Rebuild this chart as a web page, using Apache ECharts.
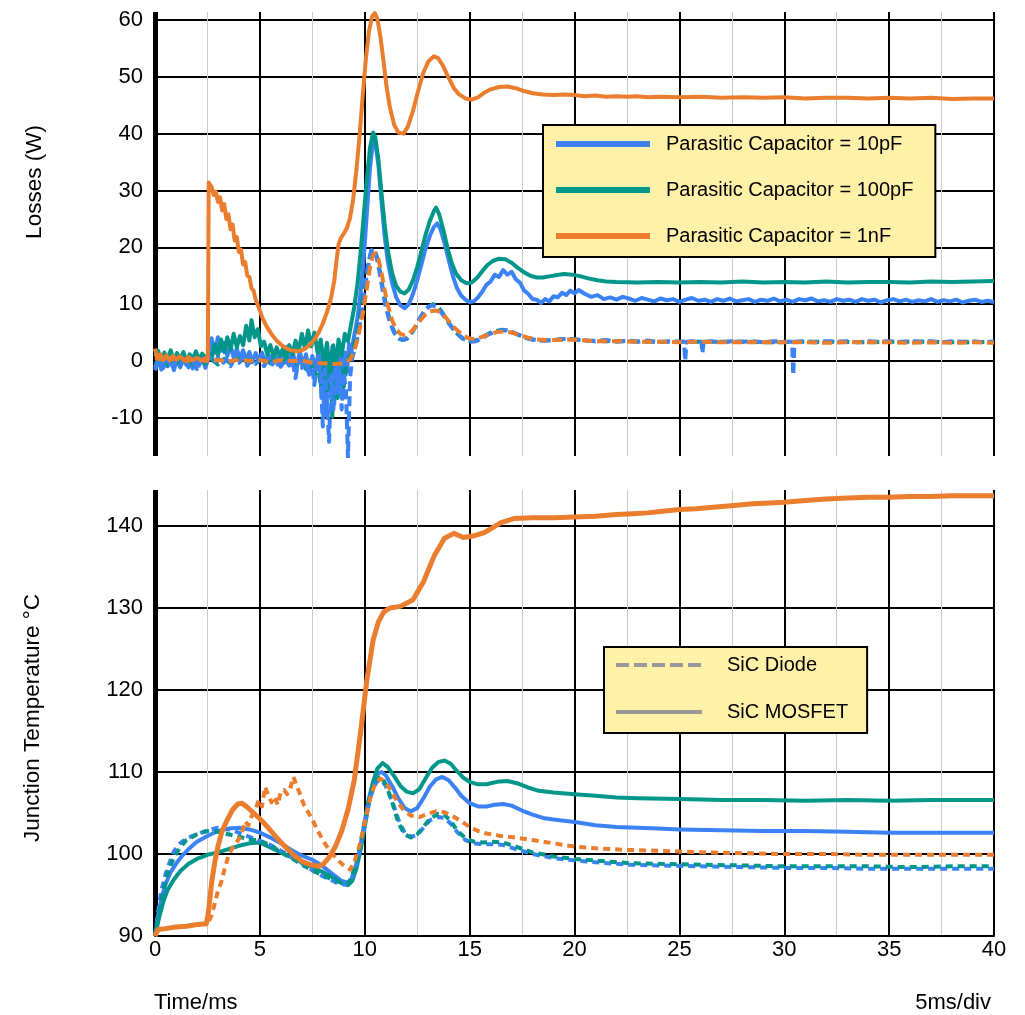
<!DOCTYPE html>
<html>
<head>
<meta charset="utf-8">
<title>Losses and junction temperature</title>
<script src="https://cdn.jsdelivr.net/npm/echarts@6/dist/echarts.min.js"></script>
<style>
  html, body { margin: 0; padding: 0; background: #fff; }
  #chart { width: 1025px; height: 1015px; }
</style>
</head>
<body>
<div id="chart"></div>
<script>
// ---- tick values ----
const timeTicks = [0, 5, 10, 15, 20, 25, 30, 35, 40];
const lossTicks = [-10, 0, 10, 20, 30, 40, 50, 60];
const tempTicks = [90, 100, 110, 120, 130, 140];

// ---- legend labels ----
const capNames = ['Parasitic Capacitor = 10pF', 'Parasitic Capacitor = 100pF', 'Parasitic Capacitor = 1nF'];
const deviceNames = ['SiC Diode', 'SiC MOSFET'];

// ---- losses (W) vs time (ms): MOSFET ----
const lossMos10 = [[0,-1.2],[0.15,0.6],[0.3,-1.5],[0.45,0.2],[0.6,-0.9],[0.75,0.8],[0.9,-1.6],[1.05,0.4],[1.2,-1.1],[1.35,0.6],[1.5,-0.7],[1.65,0.9],[1.8,-1.3],[1.95,0.3],[2.1,-0.8],[2.25,0.7],[2.4,-1.2],[2.55,0.5],[2.7,4],[2.85,1.5],[3,4.2],[3.15,1.8],[3.3,3.2],[3.45,0.9],[3.6,2.8],[3.75,0.6],[3.9,2.2],[4.05,0.3],[4.2,1.9],[4.35,0.2],[4.5,1.6],[4.65,-0.2],[4.8,1.4],[4.95,0.1],[5.1,1.5],[5.25,-0.4],[5.4,1.2],[5.55,-0.1],[5.7,1.6],[5.85,-0.6],[6,1.3],[6.15,-0.3],[6.3,2.5],[6.45,0.2],[6.6,1.1],[6.75,-1.5],[6.9,1.8],[7.05,-0.8],[7.2,1.2],[7.35,-2.4],[7.5,0.9],[7.65,-1.8],[7.8,2],[7.95,-6.5],[8.05,1.2],[8.15,-9.5],[8.25,0.5],[8.35,-3],[8.45,2.5],[8.55,-7.5],[8.65,1],[8.75,-4],[8.85,2.8],[8.95,-6],[9.05,1.5],[9.15,-2],[9.25,3],[9.35,1.5],[9.5,4.5],[9.65,7.5],[9.8,12],[9.95,18],[10.1,26],[10.25,34],[10.4,38.8],[10.5,38.6],[10.65,34.5],[10.8,28],[10.95,22],[11.1,17.5],[11.3,13.8],[11.5,11.2],[11.7,9.8],[11.9,9.3],[12.1,10],[12.3,11.8],[12.5,14.2],[12.7,17],[12.9,19.8],[13.1,22],[13.3,23.6],[13.45,24.2],[13.6,23.3],[13.8,20.8],[14,17.8],[14.2,15],[14.4,12.8],[14.6,11.5],[14.8,10.8],[15,10.4],[15.2,10.5],[15.4,11.2],[15.6,12.2],[15.8,13.4],[16,14],[16.2,15.2],[16.4,14.8],[16.6,16],[16.8,15.2],[17,15.7],[17.2,14.4],[17.4,13.8],[17.6,12.4],[17.8,11.8],[18,10.9],[18.2,10.8],[18.4,10.2],[18.6,10.9],[18.8,10.5],[19,11.4],[19.2,11.2],[19.4,12],[19.6,11.6],[19.8,12.4],[20,11.9],[20.2,12.5],[20.5,11.8],[20.8,11.3],[21.1,11.6],[21.4,10.9],[21.7,11.2],[22,10.8],[22.3,11.3],[22.6,11],[22.9,10.6],[23.2,11.1],[23.5,10.8],[23.8,10.5],[24.1,11],[24.4,10.7],[24.7,10.9],[25,10.4],[25.3,10.8],[25.6,11.1],[25.9,10.6],[26.2,10.8],[26.5,10.4],[26.8,10.9],[27.1,10.6],[27.4,11],[27.7,10.5],[28,10.7],[28.3,10.9],[28.6,10.4],[28.9,10.8],[29.2,10.6],[29.5,11],[29.8,10.5],[30.1,10.8],[30.4,10.4],[30.7,10.9],[31,10.7],[31.3,11],[31.6,10.5],[31.9,10.7],[32.2,10.4],[32.5,10.9],[32.8,10.6],[33.1,10.8],[33.4,10.4],[33.7,10.9],[34,10.6],[34.3,10.8],[34.6,10.3],[34.9,10.7],[35.2,10.9],[35.5,10.5],[35.8,10.8],[36.1,10.4],[36.4,10.7],[36.7,10.5],[37,10.9],[37.3,10.4],[37.6,10.7],[37.9,10.5],[38.2,10.8],[38.5,10.3],[38.8,10.6],[39.1,10.8],[39.4,10.4],[39.7,10.6],[40,10.4]];

const lossMos100 = [[0,0.8],[0.15,1.8],[0.3,0.2],[0.45,1.5],[0.6,0.4],[0.75,1.9],[0.9,0.1],[1.05,1.4],[1.2,0.3],[1.35,1.6],[1.5,0],[1.65,1.2],[1.8,0.4],[1.95,1.7],[2.1,0.2],[2.25,1.3],[2.4,0.5],[2.55,1.2],[2.7,0.4],[2.85,3],[3,1],[3.15,3.8],[3.3,1.6],[3.45,4.2],[3.6,2],[3.75,4.8],[3.9,2.4],[4.05,4.4],[4.2,2.8],[4.35,6.2],[4.5,3.6],[4.6,7.2],[4.75,4.2],[4.9,5.6],[5.05,2.6],[5.2,3.4],[5.35,1.2],[5.5,2.8],[5.65,0.8],[5.8,2.4],[5.95,0.9],[6.1,2.2],[6.25,0.6],[6.4,2.8],[6.55,1.1],[6.7,3.6],[6.85,1.8],[7,4.8],[7.15,2.2],[7.3,5.4],[7.45,2.6],[7.6,5],[7.75,1.5],[7.9,3.8],[8.05,-0.5],[8.2,3.2],[8.35,-2.5],[8.5,2.8],[8.6,-1.8],[8.75,3.8],[8.9,1],[9.05,4.8],[9.2,3.5],[9.35,6.5],[9.5,9.5],[9.65,13.5],[9.8,19],[9.95,25.5],[10.1,32],[10.25,37.5],[10.4,40.2],[10.5,39.4],[10.65,35.5],[10.8,29.5],[10.95,24],[11.1,19.5],[11.3,15.5],[11.5,13.2],[11.7,12.2],[11.9,11.9],[12.1,12.6],[12.3,14.2],[12.5,16.5],[12.7,19.3],[12.9,22.2],[13.1,24.6],[13.3,26.4],[13.4,27],[13.55,25.8],[13.75,23],[13.95,19.8],[14.15,17.2],[14.35,15.4],[14.6,14.2],[14.85,13.7],[15.1,13.8],[15.35,14.6],[15.6,15.8],[15.85,16.9],[16.1,17.6],[16.4,18],[16.7,17.9],[17,17.3],[17.3,16.4],[17.6,15.6],[17.9,15],[18.2,14.7],[18.5,14.7],[18.8,14.9],[19.1,15.1],[19.5,15.3],[19.9,15.2],[20.3,14.9],[20.7,14.5],[21.1,14.2],[21.5,14],[22,13.9],[23,13.8],[24,13.9],[25,13.8],[26,13.9],[27,13.8],[28,14],[29,13.8],[30,13.9],[31,13.8],[32,14],[33,13.8],[34,13.9],[35,13.9],[36,13.8],[37,14],[38,13.9],[39,14],[40,14.1]];

const lossMos1n = [[0,2.2],[0.1,0.4],[0.25,1.2],[0.4,0.2],[0.55,1],[0.7,0.1],[0.85,0.9],[1,0.3],[1.2,0.8],[1.4,0.1],[1.6,0.7],[1.8,0.2],[2,0.6],[2.2,0.1],[2.4,0.5],[2.52,0.4],[2.56,31.4],[2.7,30.6],[2.8,29.2],[2.9,29.8],[3,28],[3.1,28.8],[3.2,26.5],[3.3,27.6],[3.4,25],[3.5,25.8],[3.6,23.2],[3.7,24],[3.8,21.2],[3.9,21.8],[4,19.2],[4.1,19.6],[4.2,17],[4.3,17.4],[4.4,15],[4.5,14.8],[4.6,12.8],[4.7,12.4],[4.8,10.8],[4.95,9.4],[5.1,7.8],[5.25,6.6],[5.4,5.6],[5.6,4.5],[5.8,3.6],[6,2.9],[6.2,2.4],[6.4,2],[6.6,1.8],[6.8,1.7],[7,1.9],[7.2,2.3],[7.4,2.9],[7.6,3.8],[7.8,5],[8,6.6],[8.2,8.6],[8.4,11.2],[8.55,14.2],[8.65,17.5],[8.75,20.5],[8.85,21.6],[9,22.4],[9.15,23.4],[9.3,25.2],[9.45,28.5],[9.6,33.5],[9.75,39.5],[9.9,46.5],[10.05,53],[10.2,58],[10.35,60.6],[10.48,61.2],[10.6,60.2],[10.75,57],[10.9,52.5],[11.05,48],[11.2,44.6],[11.4,41.6],[11.6,40.2],[11.85,40],[12.05,41.2],[12.3,44],[12.55,47.6],[12.8,50.8],[13.05,52.8],[13.3,53.6],[13.5,53.3],[13.75,51.8],[14,49.8],[14.25,48],[14.5,46.9],[14.8,46.2],[15.1,46],[15.4,46.4],[15.7,47.2],[16,47.8],[16.4,48.2],[16.8,48.3],[17.2,48],[17.6,47.5],[18,47.1],[18.5,46.9],[19,46.8],[19.5,46.9],[20,46.8],[20.5,46.6],[21,46.7],[21.5,46.5],[22,46.6],[22.5,46.5],[23,46.6],[23.5,46.4],[24,46.5],[25,46.4],[26,46.5],[27,46.3],[28,46.4],[29,46.3],[30,46.4],[31,46.2],[32,46.3],[33,46.3],[34,46.2],[35,46.3],[36,46.2],[37,46.3],[38,46.1],[39,46.2],[40,46.2]];

// ---- losses (W) vs time (ms): diode ----
const lossDio10 = [[0,-1.6],[0.2,0.3],[0.4,-1.2],[0.6,0.5],[0.8,-1.5],[1,0.2],[1.2,-0.9],[1.4,0.6],[1.6,-1.1],[1.8,0.1],[2,-1.4],[2.2,0.4],[2.4,-0.6],[2.6,0.8],[2.8,-0.4],[3,0.6],[3.2,-0.6],[3.4,0.4],[3.6,-0.9],[3.8,0.5],[4,-0.3],[4.2,0.7],[4.4,-0.8],[4.6,0.3],[4.8,-0.5],[5,0.6],[5.2,-0.9],[5.4,0.4],[5.6,-0.6],[5.8,0.5],[6,-1],[6.2,0.3],[6.4,-0.8],[6.55,0.2],[6.7,-3],[6.85,0.4],[7,-1.2],[7.15,0.5],[7.3,-1.8],[7.45,0.2],[7.6,-4.2],[7.75,0.6],[7.9,-2.2],[8,-11.5],[8.1,-1.5],[8.2,-7.5],[8.3,-14.2],[8.4,-2.5],[8.5,-8.8],[8.6,-0.5],[8.7,-5.5],[8.8,-1.2],[8.9,-8.5],[9,-2],[9.1,-5],[9.2,-17],[9.3,-3],[9.4,0.5],[9.55,2.5],[9.7,5],[9.85,8.5],[10,12.5],[10.15,16.5],[10.3,19.4],[10.42,19.8],[10.55,18.6],[10.7,15.8],[10.85,12.5],[11,9.5],[11.2,6.8],[11.4,5],[11.6,4.1],[11.8,3.7],[12,3.9],[12.2,4.8],[12.4,6],[12.6,7.4],[12.8,8.6],[13,9.4],[13.2,9.8],[13.4,9.6],[13.6,8.8],[13.8,7.8],[14,6.7],[14.2,5.7],[14.4,4.9],[14.6,4.2],[14.8,3.7],[15,3.4],[15.3,3.5],[15.6,4],[15.9,4.7],[16.2,5.1],[16.5,5.4],[16.8,5.4],[17.1,5],[17.4,4.5],[17.7,4.1],[18,3.8],[18.5,3.6],[19,3.7],[19.5,3.9],[20,3.8],[20.5,3.6],[21,3.5],[21.5,3.7],[22,3.4],[22.5,3.6],[23,3.4],[23.5,3.6],[24,3.3],[24.5,3.5],[25,3.4],[25.22,3.4],[25.28,0],[25.34,3.4],[25.6,3.5],[26.05,3.4],[26.1,1.4],[26.16,3.4],[26.5,3.5],[27,3.3],[27.5,3.5],[28,3.4],[28.5,3.5],[29,3.3],[29.5,3.5],[30,3.4],[30.37,3.4],[30.43,-2.5],[30.49,3.4],[31,3.5],[31.5,3.3],[32,3.5],[32.5,3.4],[33,3.5],[33.5,3.3],[34,3.5],[34.5,3.4],[35,3.5],[35.5,3.3],[36,3.5],[36.5,3.4],[37,3.5],[37.5,3.3],[38,3.5],[38.5,3.4],[39,3.5],[39.5,3.3],[40,3.4]];

const lossDio100 = [[0,-0.5],[0.3,0.5],[0.6,-0.8],[0.9,0.4],[1.2,-0.6],[1.5,0.3],[1.8,-0.7],[2.1,0.2],[2.4,-0.5],[2.7,0.3],[3,-0.6],[3.3,0.4],[3.6,-0.4],[3.9,0.5],[4.2,-0.7],[4.5,0.2],[4.8,-0.5],[5.1,0.4],[5.4,-0.6],[5.7,0.3],[6,-0.5],[6.3,0.4],[6.6,-0.8],[6.9,0.2],[7.2,-1.4],[7.4,0.1],[7.6,-2.8],[7.75,-0.2],[7.9,-4.5],[8.05,-1],[8.2,-5.5],[8.35,-0.8],[8.45,-9.8],[8.55,-2.5],[8.7,-6.5],[8.85,-0.5],[9,-4.5],[9.15,-0.3],[9.3,0.8],[9.45,2.2],[9.6,4.5],[9.75,7.5],[9.9,11],[10.05,14.5],[10.2,17.8],[10.35,19.6],[10.48,19.5],[10.6,18],[10.75,15.2],[10.9,12],[11.05,9.2],[11.25,6.5],[11.45,4.8],[11.65,3.9],[11.85,3.7],[12.05,4.1],[12.25,5],[12.45,6.2],[12.65,7.6],[12.85,8.8],[13.05,9.6],[13.25,10],[13.45,9.7],[13.65,8.8],[13.85,7.6],[14.05,6.5],[14.25,5.5],[14.45,4.7],[14.65,4],[14.85,3.6],[15.05,3.5],[15.35,3.7],[15.65,4.3],[15.95,4.9],[16.25,5.3],[16.55,5.5],[16.85,5.3],[17.15,4.9],[17.45,4.4],[17.75,4],[18.1,3.7],[18.6,3.6],[19.1,3.7],[19.6,3.9],[20.1,3.8],[20.6,3.6],[21.5,3.5],[22.5,3.5],[23.5,3.4],[25,3.4],[26.5,3.4],[28,3.4],[29.5,3.3],[31,3.4],[32.5,3.4],[34,3.3],[35.5,3.4],[37,3.4],[38.5,3.3],[40,3.4]];

const lossDio1n = [[0,0.6],[0.5,0.1],[1,0.4],[1.5,0],[2,0.3],[2.5,0],[3,0.2],[3.5,-0.1],[4,0.3],[4.5,0],[5,0.2],[5.5,-0.2],[6,0.2],[6.5,0],[7,0.1],[7.5,-0.3],[8,-0.4],[8.5,-0.5],[9,-0.4],[9.3,0.3],[9.5,1.8],[9.7,4.5],[9.9,8.2],[10.1,12.8],[10.25,16.5],[10.4,18.7],[10.52,19],[10.65,18],[10.8,15.5],[10.95,12.5],[11.1,9.8],[11.3,7.2],[11.5,5.6],[11.7,4.8],[11.9,4.5],[12.1,4.8],[12.3,5.5],[12.5,6.4],[12.7,7.4],[12.9,8.2],[13.1,8.7],[13.3,8.9],[13.5,8.8],[13.7,8.3],[13.9,7.5],[14.1,6.6],[14.3,5.8],[14.5,5.1],[14.7,4.5],[14.9,4.1],[15.1,3.9],[15.4,4],[15.7,4.4],[16,4.8],[16.3,5.1],[16.6,5.2],[16.9,5.1],[17.2,4.8],[17.5,4.4],[17.8,4.1],[18.2,3.8],[18.7,3.7],[19.2,3.7],[19.7,3.8],[20.2,3.7],[21,3.5],[22,3.5],[23,3.4],[24,3.4],[25,3.3],[26,3.4],[27,3.3],[28,3.3],[29,3.3],[30,3.3],[31,3.3],[32,3.2],[33,3.3],[34,3.3],[35,3.3],[36,3.2],[37,3.3],[38,3.2],[39,3.3],[40,3.2]];

// ---- junction temperature (°C) vs time (ms): MOSFET ----
const tempMos10 = [[0,90],[0.15,92.5],[0.3,94.5],[0.5,96.3],[0.75,97.8],[1,98.8],[1.3,99.8],[1.6,100.6],[2,101.5],[2.5,102.2],[3,102.8],[3.5,103.1],[4,103.2],[4.5,103],[5,102.6],[5.5,102],[6,101.3],[6.5,100.5],[7,99.8],[7.5,99.3],[8,98.5],[8.5,97.5],[8.9,96.7],[9.2,96.5],[9.4,97],[9.6,98.5],[9.8,101],[10,104],[10.2,106.8],[10.4,108.8],[10.6,109.8],[10.8,110],[11,109.6],[11.3,108.3],[11.6,106.8],[11.9,105.6],[12.2,105.2],[12.5,105.6],[12.8,106.8],[13.1,108.2],[13.4,109.1],[13.7,109.4],[14,109],[14.3,108.1],[14.6,107.1],[15,106.2],[15.4,105.8],[15.8,105.8],[16.2,106],[16.6,106.1],[17,105.9],[17.5,105.3],[18,104.8],[18.5,104.4],[19,104.2],[20,103.9],[21,103.5],[22,103.3],[23,103.2],[24,103.1],[25,103],[27,102.9],[29,102.8],[31,102.8],[33,102.7],[35,102.6],[37,102.6],[40,102.6]];

const tempMos100 = [[0,90],[0.2,92.3],[0.4,94.2],[0.6,95.6],[0.9,96.9],[1.2,97.9],[1.6,98.8],[2,99.4],[2.5,99.9],[3,100.2],[3.5,100.6],[4,101],[4.5,101.3],[5,101.4],[5.5,100.8],[6,100.2],[6.5,99.6],[7,99],[7.5,98.4],[8,97.8],[8.5,97.1],[9,96.3],[9.2,96.2],[9.4,96.7],[9.6,98.2],[9.8,100.5],[10,103.3],[10.2,106.3],[10.4,108.8],[10.6,110.4],[10.85,111.1],[11.1,110.6],[11.4,109.5],[11.7,108.3],[12,107.6],[12.3,107.4],[12.6,107.9],[12.9,109.2],[13.2,110.5],[13.5,111.2],[13.8,111.4],[14.1,111],[14.4,110.1],[14.7,109.3],[15,108.8],[15.4,108.5],[15.8,108.5],[16.3,108.8],[16.8,108.9],[17.3,108.6],[17.8,108.1],[18.3,107.7],[19,107.5],[20,107.3],[21,107.1],[22,106.9],[23,106.8],[25,106.7],[27,106.6],[29,106.6],[31,106.5],[33,106.6],[35,106.5],[37,106.6],[40,106.6]];

const tempMos1n = [[0,90],[0.15,90.8],[0.5,90.9],[1,91.1],[1.5,91.2],[2,91.4],[2.45,91.5],[2.55,93],[2.7,96.5],[2.85,99],[3,100.9],[3.2,102.8],[3.45,104.2],[3.7,105.4],[3.95,106.1],[4.15,106.2],[4.4,105.7],[4.7,105],[5,104.3],[5.4,103.2],[5.8,102],[6.2,100.9],[6.6,99.9],[7,99.1],[7.4,98.7],[7.75,98.5],[8,98.7],[8.3,99.6],[8.6,100.9],[8.9,102.8],[9.2,105.4],[9.5,109],[9.8,114.8],[10.1,121.2],[10.4,126.1],[10.65,128.3],[10.9,129.5],[11.2,130],[11.7,130.2],[12.3,131],[12.8,133.2],[13.3,136.3],[13.8,138.5],[14.25,139.1],[14.7,138.6],[15.2,138.8],[15.7,139.2],[16.1,139.8],[16.5,140.4],[17.1,140.9],[18,141],[19,141],[20,141.1],[21,141.2],[22,141.4],[22.8,141.5],[23.5,141.6],[24.2,141.8],[25,142],[25.8,142.1],[26.6,142.3],[27.6,142.5],[28.5,142.7],[29.3,142.8],[30,142.9],[31,143.1],[32,143.3],[33,143.4],[34,143.5],[35,143.5],[36,143.6],[37,143.6],[38,143.7],[39,143.7],[40,143.7]];

// ---- junction temperature (°C) vs time (ms): diode ----
const tempDio10 = [[0,90],[0.15,93],[0.3,95.5],[0.5,97.5],[0.7,99],[0.9,100.3],[1.2,101.3],[1.5,101.9],[2,102.4],[2.5,102.9],[3,103.2],[3.5,103],[4,102.6],[4.5,102.1],[5,101.6],[5.5,101.1],[6,100.4],[6.5,99.7],[7,98.9],[7.5,98],[8,97.3],[8.5,96.7],[8.8,96.3],[9.1,96.3],[9.4,97.2],[9.6,98.8],[9.8,100.9],[10,103.6],[10.2,106.2],[10.4,108],[10.6,108.9],[10.8,109],[11,108.3],[11.3,106.5],[11.6,104.2],[11.9,102.6],[12.2,102.1],[12.5,102.3],[12.8,103.2],[13.1,104.1],[13.5,104.5],[13.8,104.4],[14.1,103.7],[14.4,102.7],[14.8,101.7],[15.2,101.3],[15.6,101.2],[16.1,101.2],[16.6,101.1],[17.2,100.6],[18,100],[19,99.5],[20,99.2],[21,99],[22.5,98.7],[24,98.6],[26,98.5],[28,98.4],[30,98.3],[32,98.3],[34,98.2],[36,98.2],[38,98.2],[40,98.2]];

const tempDio100 = [[0,90],[0.2,92.8],[0.4,95.5],[0.6,97.6],[0.9,99.6],[1.2,100.8],[1.5,101.7],[2,102.4],[2.5,102.8],[3,102.7],[3.5,102.4],[4,102.1],[4.5,101.8],[5,101.6],[5.5,101.1],[6,100.2],[6.5,99.5],[7,98.7],[7.5,98],[8,97.4],[8.5,96.8],[9,96.4],[9.2,96.4],[9.4,97.3],[9.6,99],[9.8,101.3],[10,104],[10.2,106.6],[10.4,108.4],[10.6,109.3],[10.8,109.4],[11,108.5],[11.3,106.4],[11.6,103.8],[11.9,102.4],[12.2,102],[12.5,102.4],[12.8,103.3],[13.1,104.3],[13.5,104.9],[13.8,104.8],[14.1,104],[14.4,102.9],[14.8,101.9],[15.2,101.5],[15.6,101.4],[16.1,101.5],[16.6,101.4],[17.2,100.9],[18,100.2],[19,99.7],[20,99.4],[21,99.2],[22.5,98.9],[24,98.8],[26,98.7],[28,98.6],[30,98.5],[32,98.5],[34,98.5],[36,98.4],[38,98.5],[40,98.5]];

const tempDio1n = [[0,90],[0.15,90.8],[0.5,90.9],[1,91.1],[1.5,91.2],[2,91.4],[2.5,91.5],[2.7,92.5],[2.85,94],[3,95.5],[3.15,96.5],[3.3,98],[3.5,99.8],[3.7,100.8],[3.9,101.5],[4.1,102.2],[4.3,104],[4.45,103.5],[4.6,104.6],[4.8,105.5],[4.95,106.6],[5.1,105.8],[5.25,108.2],[5.4,107.2],[5.55,106.3],[5.7,107],[5.85,106],[6,107.6],[6.15,107.8],[6.3,107.3],[6.45,108],[6.6,109.4],[6.75,108.3],[6.9,107.4],[7.1,106],[7.3,105.1],[7.5,104.2],[7.75,102.9],[8,101.7],[8.3,100.5],[8.7,99.3],[9,98.6],[9.3,98.1],[9.5,99],[9.7,100.6],[9.9,102.6],[10.1,105],[10.3,107.2],[10.5,108.6],[10.75,109.2],[11,108.7],[11.3,107.5],[11.6,106.2],[11.9,105.2],[12.2,104.7],[12.6,104.5],[13,104.9],[13.4,105.2],[13.8,105.1],[14.2,104.6],[14.6,104],[15,103.3],[15.4,102.8],[15.8,102.5],[16.5,102.2],[17.2,102],[18,101.7],[19,101.3],[20,100.9],[21,100.7],[22.5,100.5],[24,100.4],[26,100.2],[28,100.1],[30,100],[32,100],[34,99.9],[36,99.9],[38,99.9],[40,99.9]];

// ---- styling ----
const FONT = "'Liberation Sans', Arial, Helvetica, sans-serif";
const BLUE = '#3b82f5';
const TEAL = '#00968a';
const ORANGE = '#ea7d2e';
const GREY = '#999999';
const DASH_TOP = [10, 5];
const DASH_BOTTOM = [7, 5];

function trace(name, data, color, dash, gridIdx, width) {
  return {
    type: 'line',
    name: name,
    xAxisIndex: gridIdx,
    yAxisIndex: gridIdx,
    data: data,
    showSymbol: false,
    symbol: 'none',
    smooth: false,
    lineStyle: { color: color, width: width || 4, type: dash || 'solid', cap: 'butt', join: 'round' },
    itemStyle: { color: color },
    emphasis: { disabled: true },
    z: 3
  };
}

function timeAxis(gridIdx, withLabels) {
  return {
    type: 'value',
    gridIndex: gridIdx,
    min: 0,
    max: 40,
    interval: 5,
    axisLine: { show: withLabels, onZero: false, lineStyle: { color: '#000', width: 2 } },
    axisTick: { show: false },
    axisLabel: {
      show: withLabels,
      color: '#000',
      fontSize: 22,
      fontFamily: FONT,
      margin: 3,
      customValues: timeTicks
    },
    splitLine: { show: true, lineStyle: { color: '#000', width: 2 } },
    minorTick: { show: false, splitNumber: 2 },
    minorSplitLine: { show: true, lineStyle: { color: '#cbcbcb', width: 1 } }
  };
}

function valueAxis(gridIdx, min, max, ticks) {
  return {
    type: 'value',
    gridIndex: gridIdx,
    min: min,
    max: max,
    axisLine: { show: true, lineStyle: { color: '#000', width: 5, cap: 'butt' } },
    axisTick: { show: false, customValues: ticks },
    axisLabel: { color: '#000', fontSize: 22, fontFamily: FONT, margin: 12, customValues: ticks },
    splitLine: { show: true, lineStyle: { color: '#000', width: 2 } }
  };
}

const option = {
  backgroundColor: '#ffffff',
  animation: false,
  grid: [
    { left: 155, right: 31, top: 12, height: 444 },
    { left: 155, right: 31, top: 490, height: 446 }
  ],
  xAxis: [timeAxis(0, false), timeAxis(1, true)],
  yAxis: [
    valueAxis(0, -16.7, 61.4, lossTicks),
    valueAxis(1, 90, 144.39, tempTicks)
  ],
  legend: [
    {
      orient: 'vertical',
      left: 543,
      top: 125,
      padding: [9, 22, 11, 10],
      itemGap: 26,
      itemWidth: 94,
      itemHeight: 6,
      backgroundColor: '#fff1a8',
      borderColor: '#000',
      borderWidth: 2,
      borderRadius: 0,
      data: capNames.map(function (n) { return { name: n, lineStyle: { type: 'solid' } }; }),
      lineStyle: { width: 6 },
      itemStyle: { opacity: 0 },
      textStyle: { color: '#000', fontSize: 20, fontFamily: FONT, padding: [0, 0, 0, 11] }
    },
    {
      orient: 'vertical',
      left: 604,
      top: 647,
      padding: [8, 19, 11, 10],
      itemGap: 27,
      itemWidth: 86,
      itemHeight: 6,
      backgroundColor: '#fff1a8',
      borderColor: '#000',
      borderWidth: 2,
      borderRadius: 0,
      data: deviceNames,
      lineStyle: { width: 4 },
      itemStyle: { opacity: 0 },
      textStyle: { color: '#000', fontSize: 20, fontFamily: FONT, padding: [0, 0, 0, 20] }
    }
  ],
  graphic: [
    { type: 'text', x: 35, y: 182, rotation: Math.PI / 2,
      style: { text: 'Losses (W)', fill: '#000', font: '22.5px ' + FONT, textAlign: 'center', textVerticalAlign: 'middle' } },
    { type: 'text', x: 33, y: 718, rotation: Math.PI / 2,
      style: { text: 'Junction Temperature °C', fill: '#000', font: '22.5px ' + FONT, textAlign: 'center', textVerticalAlign: 'middle' } },
    { type: 'text', x: 154, y: 1003,
      style: { text: 'Time/ms', fill: '#000', font: '22px ' + FONT, textAlign: 'left', textVerticalAlign: 'middle' } },
    { type: 'text', x: 991, y: 1003,
      style: { text: '5ms/div', fill: '#000', font: '22px ' + FONT, textAlign: 'right', textVerticalAlign: 'middle' } }
  ],
  series: [
    // losses: MOSFET (solid) and diode (dashed)
    trace(capNames[0], lossMos10, BLUE, null, 0),
    trace(capNames[1], lossMos100, TEAL, null, 0),
    trace(capNames[1], lossDio100, TEAL, DASH_TOP, 0),
    trace(capNames[0], lossDio10, BLUE, DASH_TOP, 0),
    trace(capNames[2], lossDio1n, ORANGE, DASH_TOP, 0),
    trace(capNames[2], lossMos1n, ORANGE, null, 0),
    // junction temperature: MOSFET (solid) and diode (dashed)
    trace(capNames[0], tempMos10, BLUE, null, 1),
    trace(capNames[1], tempMos100, TEAL, null, 1),
    trace(capNames[0], tempDio10, BLUE, DASH_BOTTOM, 1),
    trace(capNames[1], tempDio100, TEAL, DASH_BOTTOM, 1),
    trace(capNames[2], tempDio1n, ORANGE, DASH_BOTTOM, 1),
    trace(capNames[2], tempMos1n, ORANGE, null, 1, 5),
    // line-style key entries for the device legend
    trace(deviceNames[0], [], GREY, [13, 5], 1),
    trace(deviceNames[1], [], GREY, null, 1)
  ]
};

const chart = echarts.init(document.getElementById('chart'), null, { renderer: 'canvas' });
chart.setOption(option);
</script>
</body>
</html>
